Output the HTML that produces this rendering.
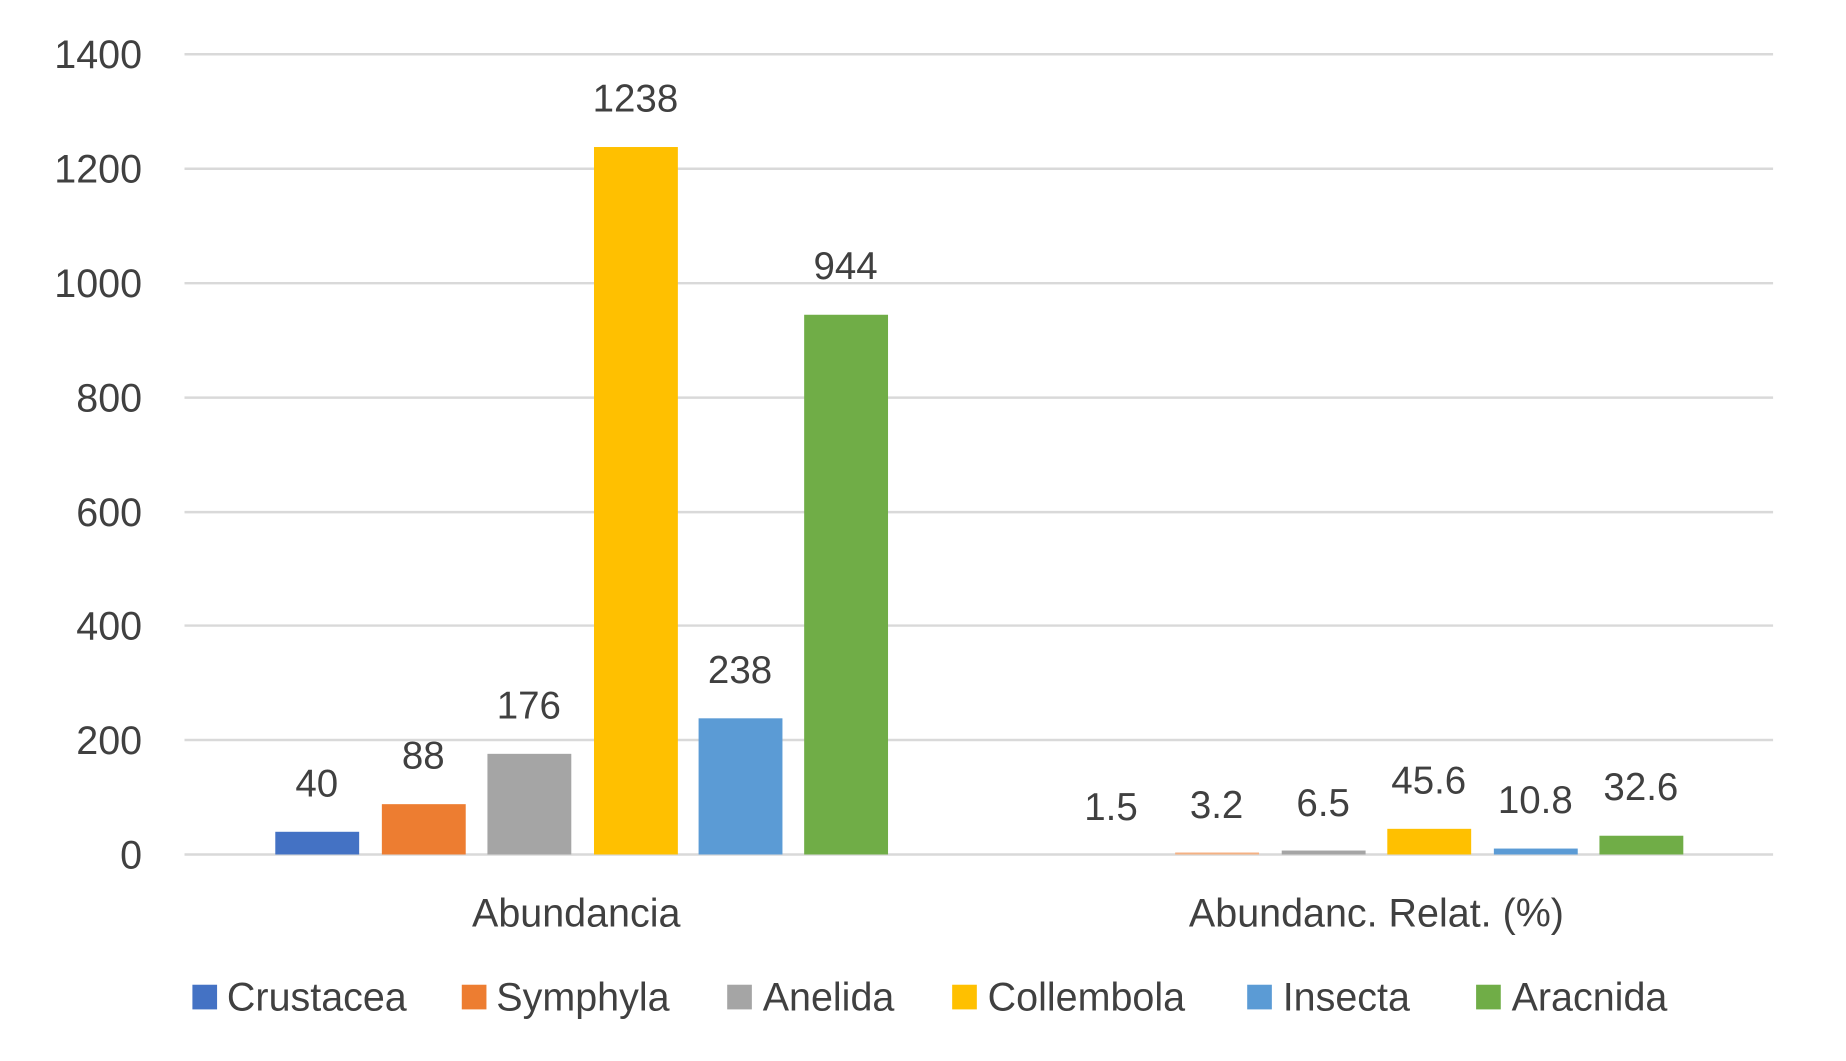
<!DOCTYPE html>
<html><head><meta charset="utf-8"><style>html,body{margin:0;padding:0;background:#fff}svg{display:block}</style></head>
<body>
<svg width="1846" height="1061" xmlns="http://www.w3.org/2000/svg" font-family="Liberation Sans, sans-serif" fill="#404040">
<g transform="scale(0.9867)">
<g stroke="#d9d9d9" stroke-width="2.5">
<line x1="187" x2="1797" y1="55" y2="55"/>
<line x1="187" x2="1797" y1="171" y2="171"/>
<line x1="187" x2="1797" y1="287" y2="287"/>
<line x1="187" x2="1797" y1="403" y2="403"/>
<line x1="187" x2="1797" y1="519" y2="519"/>
<line x1="187" x2="1797" y1="634" y2="634"/>
<line x1="187" x2="1797" y1="750" y2="750"/>
<line x1="187" x2="1797" y1="866" y2="866"/>
</g>
<g font-size="40" text-anchor="end">
<text x="144" y="69">1400</text>
<text x="144" y="185">1200</text>
<text x="144" y="301">1000</text>
<text x="144" y="417">800</text>
<text x="144" y="533">600</text>
<text x="144" y="648">400</text>
<text x="144" y="764">200</text>
<text x="144" y="880">0</text>
</g>
<g>
<rect x="279" y="843" width="85" height="23" fill="#4472c4"/>
<rect x="387" y="815" width="85" height="51" fill="#ed7d31"/>
<rect x="494" y="764" width="85" height="102" fill="#a5a5a5"/>
<rect x="602" y="149" width="85" height="717" fill="#ffc000"/>
<rect x="708" y="728" width="85" height="138" fill="#5b9bd5"/>
<rect x="815" y="319" width="85" height="547" fill="#70ad47"/>
<rect x="1191" y="864" width="85" height="2" fill="#f4b183"/>
<rect x="1299" y="862" width="85" height="4" fill="#a5a5a5"/>
<rect x="1406" y="840" width="85" height="26" fill="#ffc000"/>
<rect x="1514" y="860" width="85" height="6" fill="#5b9bd5"/>
<rect x="1621" y="847" width="85" height="19" fill="#70ad47"/>
</g>
<g font-size="39" text-anchor="middle">
<text x="321" y="807">40</text>
<text x="429" y="779">88</text>
<text x="536" y="728">176</text>
<text x="644" y="113">1238</text>
<text x="750" y="692">238</text>
<text x="857" y="283">944</text>
<text x="1126" y="831">1.5</text>
<text x="1233" y="829">3.2</text>
<text x="1341" y="827">6.5</text>
<text x="1448" y="804">45.6</text>
<text x="1556" y="824">10.8</text>
<text x="1663" y="811">32.6</text>
</g>
<g font-size="40" text-anchor="middle">
<text x="584" y="939">Abundancia</text>
<text x="1395" y="939">Abundanc. Relat. (%)</text>
</g>
<g font-size="40">
<rect x="195" y="998" width="25" height="25" fill="#4472c4"/><text x="230" y="1024">Crustacea</text>
<rect x="468" y="998" width="25" height="25" fill="#ed7d31"/><text x="503" y="1024">Symphyla</text>
<rect x="737" y="998" width="25" height="25" fill="#a5a5a5"/><text x="773" y="1024">Anelida</text>
<rect x="965" y="998" width="25" height="25" fill="#ffc000"/><text x="1001" y="1024">Collembola</text>
<rect x="1264" y="998" width="25" height="25" fill="#5b9bd5"/><text x="1300" y="1024">Insecta</text>
<rect x="1496" y="998" width="25" height="25" fill="#70ad47"/><text x="1532" y="1024">Aracnida</text>
</g>
</g>
</svg>
</body></html>
